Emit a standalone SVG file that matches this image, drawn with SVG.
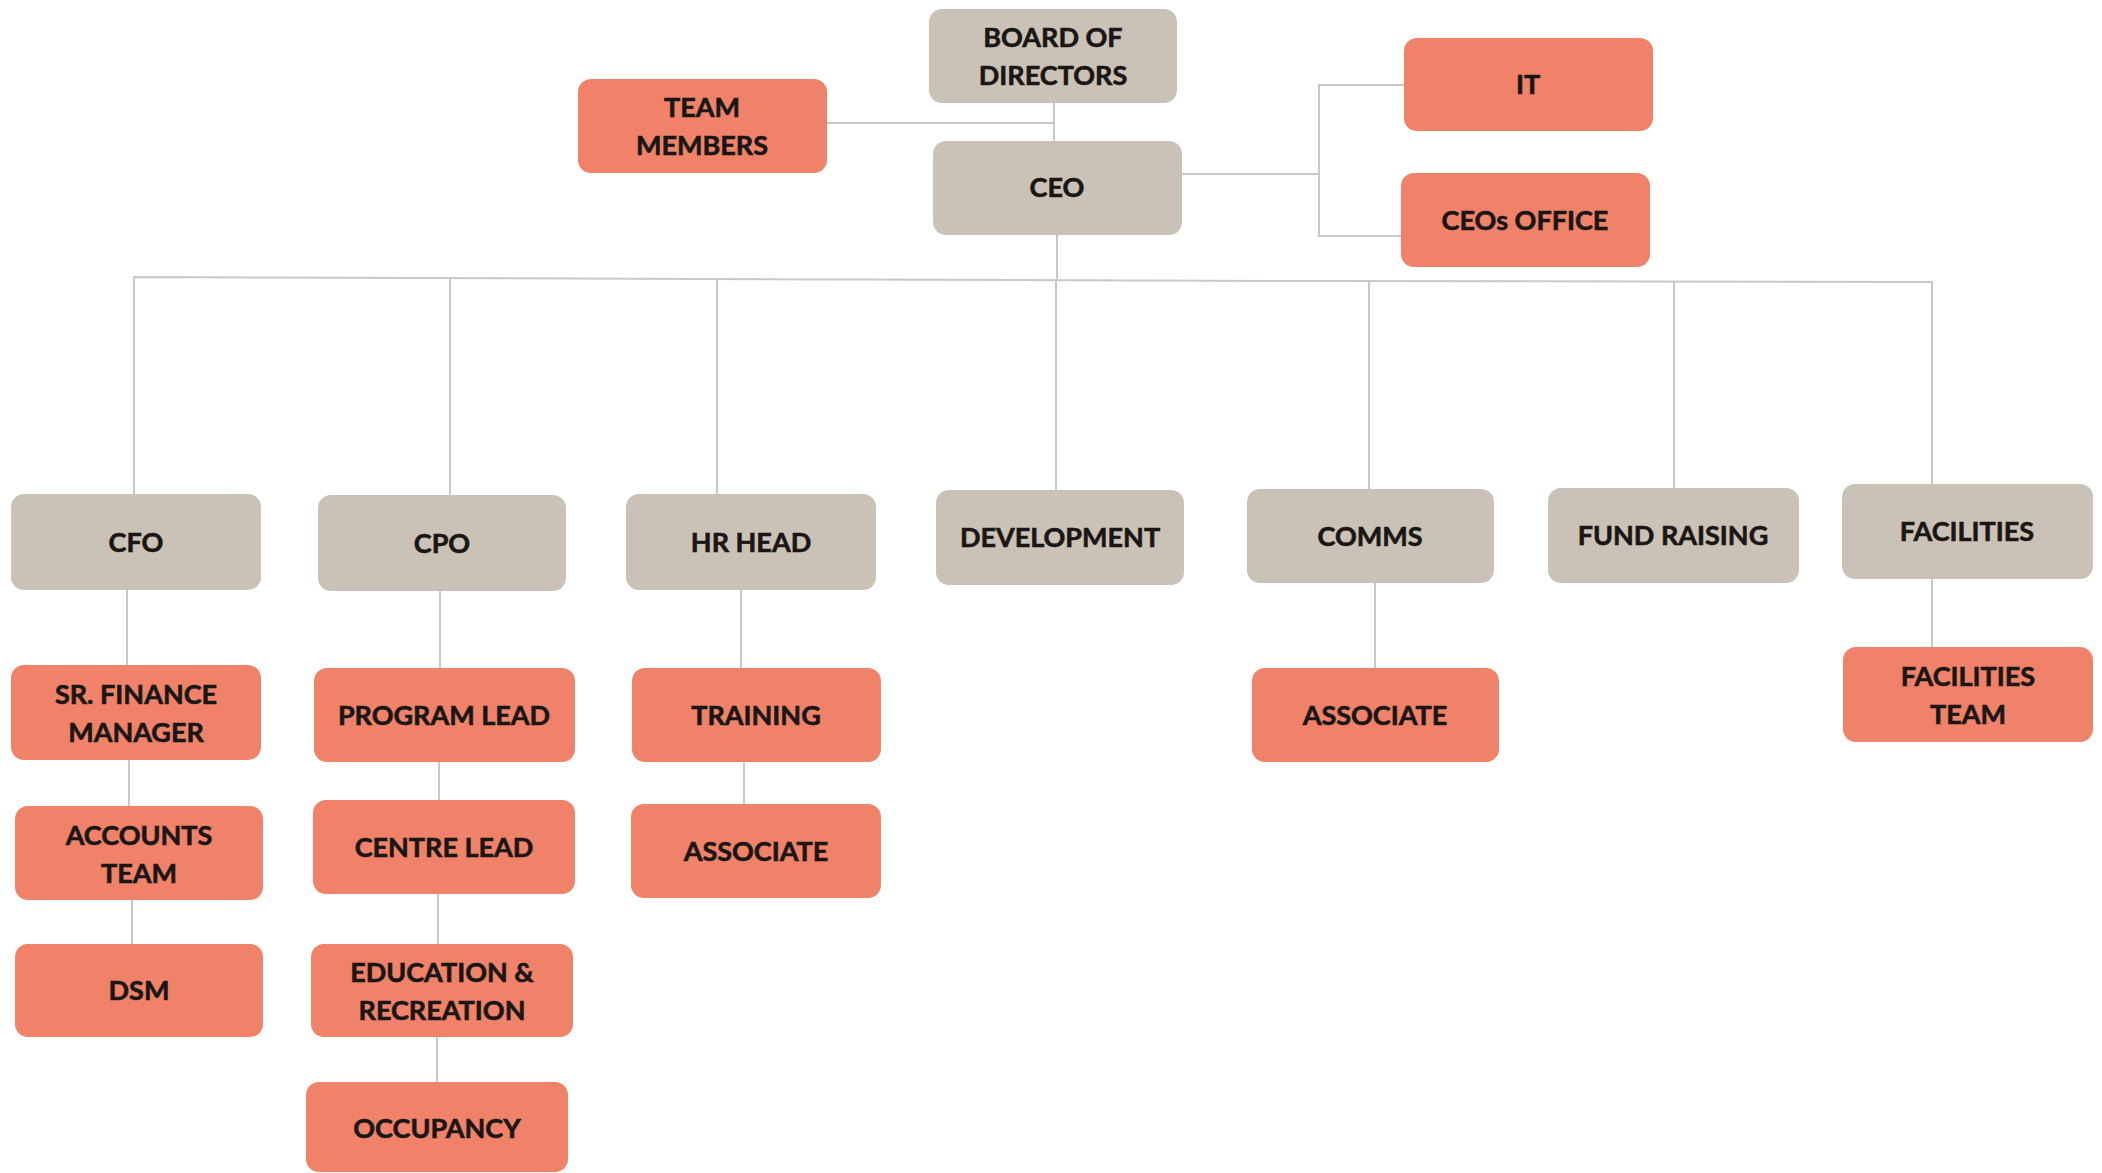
<svg xmlns="http://www.w3.org/2000/svg" width="2102" height="1173" viewBox="0 0 2102 1173">
<style>
.g{fill:#cac2b7}
.s{fill:#ef8268}
.t{font-family:Lato,"Liberation Sans",sans-serif;font-weight:700;font-size:27px;fill:#1a1614;stroke:#1a1614;stroke-width:0.6;text-anchor:middle}
.c{stroke:#c8c8c8;stroke-width:2;fill:none}
</style>
<rect width="2102" height="1173" fill="#ffffff"/>
<g id="connectors" class="c">
<line x1="1054" y1="103" x2="1054" y2="141"/>
<line x1="827" y1="123" x2="1054" y2="123"/>
<line x1="1057" y1="235" x2="1057" y2="280"/>
<path d="M134,494 L134,277 L700,279 L1300,281 L1932,282 L1932,484"/>
<line x1="450" y1="278" x2="450" y2="495"/>
<line x1="717" y1="279" x2="717" y2="494"/>
<line x1="1056" y1="280" x2="1056" y2="490"/>
<line x1="1369" y1="281" x2="1369" y2="489"/>
<line x1="1674" y1="282" x2="1674" y2="488"/>
<path d="M1182,174 L1319,174"/>
<path d="M1404,85 L1319,85 L1319,236 L1401,236"/>
<line x1="127" y1="590" x2="127" y2="665"/>
<line x1="129" y1="760" x2="129" y2="806"/>
<line x1="132" y1="900" x2="132" y2="944"/>
<line x1="440" y1="591" x2="440" y2="668"/>
<line x1="439" y1="762" x2="439" y2="800"/>
<line x1="438" y1="894" x2="438" y2="944"/>
<line x1="437" y1="1037" x2="437" y2="1082"/>
<line x1="741" y1="590" x2="741" y2="668"/>
<line x1="744" y1="762" x2="744" y2="804"/>
<line x1="1375" y1="583" x2="1375" y2="668"/>
<line x1="1932" y1="579" x2="1932" y2="647"/>
</g>
<g id="board"><rect class="g" x="929" y="9" width="248" height="94" rx="13"/><text class="t" x="1053" y="47">BOARD OF</text><text class="t" x="1053" y="85">DIRECTORS</text></g>
<g id="team-members"><rect class="s" x="578" y="79" width="249" height="94" rx="13"/><text class="t" x="702" y="117">TEAM</text><text class="t" x="702" y="155">MEMBERS</text></g>
<g id="ceo"><rect class="g" x="933" y="141" width="249" height="94" rx="13"/><text class="t" x="1057" y="197">CEO</text></g>
<g id="it"><rect class="s" x="1404" y="38" width="249" height="93" rx="13"/><text class="t" x="1528" y="94">IT</text></g>
<g id="ceos-office"><rect class="s" x="1401" y="173" width="249" height="94" rx="13"/><text class="t" x="1525" y="230">CEOs OFFICE</text></g>
<g id="cfo"><rect class="g" x="11" y="494" width="250" height="96" rx="13"/><text class="t" x="136" y="552">CFO</text></g>
<g id="cpo"><rect class="g" x="318" y="495" width="248" height="96" rx="13"/><text class="t" x="442" y="553">CPO</text></g>
<g id="hr-head"><rect class="g" x="626" y="494" width="250" height="96" rx="13"/><text class="t" x="751" y="552">HR HEAD</text></g>
<g id="development"><rect class="g" x="936" y="490" width="248" height="95" rx="13"/><text class="t" x="1060" y="547">DEVELOPMENT</text></g>
<g id="comms"><rect class="g" x="1247" y="489" width="247" height="94" rx="13"/><text class="t" x="1370" y="546">COMMS</text></g>
<g id="fund-raising"><rect class="g" x="1548" y="488" width="251" height="95" rx="13"/><text class="t" x="1673" y="545">FUND RAISING</text></g>
<g id="facilities"><rect class="g" x="1842" y="484" width="251" height="95" rx="13"/><text class="t" x="1967" y="541">FACILITIES</text></g>
<g id="sr-finance"><rect class="s" x="11" y="665" width="250" height="95" rx="13"/><text class="t" x="136" y="704">SR. FINANCE</text><text class="t" x="136" y="742">MANAGER</text></g>
<g id="program-lead"><rect class="s" x="314" y="668" width="261" height="94" rx="13"/><text class="t" x="444" y="725">PROGRAM LEAD</text></g>
<g id="training"><rect class="s" x="632" y="668" width="249" height="94" rx="13"/><text class="t" x="756" y="725">TRAINING</text></g>
<g id="comms-associate"><rect class="s" x="1252" y="668" width="247" height="94" rx="13"/><text class="t" x="1375" y="725">ASSOCIATE</text></g>
<g id="facilities-team"><rect class="s" x="1843" y="647" width="250" height="95" rx="13"/><text class="t" x="1968" y="686">FACILITIES</text><text class="t" x="1968" y="724">TEAM</text></g>
<g id="accounts-team"><rect class="s" x="15" y="806" width="248" height="94" rx="13"/><text class="t" x="139" y="845">ACCOUNTS</text><text class="t" x="139" y="883">TEAM</text></g>
<g id="centre-lead"><rect class="s" x="313" y="800" width="262" height="94" rx="13"/><text class="t" x="444" y="857">CENTRE LEAD</text></g>
<g id="hr-associate"><rect class="s" x="631" y="804" width="250" height="94" rx="13"/><text class="t" x="756" y="861">ASSOCIATE</text></g>
<g id="dsm"><rect class="s" x="15" y="944" width="248" height="93" rx="13"/><text class="t" x="139" y="1000">DSM</text></g>
<g id="education"><rect class="s" x="311" y="944" width="262" height="93" rx="13"/><text class="t" x="442" y="982">EDUCATION &amp;</text><text class="t" x="442" y="1020">RECREATION</text></g>
<g id="occupancy"><rect class="s" x="306" y="1082" width="262" height="90" rx="13"/><text class="t" x="437" y="1138">OCCUPANCY</text></g>
</svg>
